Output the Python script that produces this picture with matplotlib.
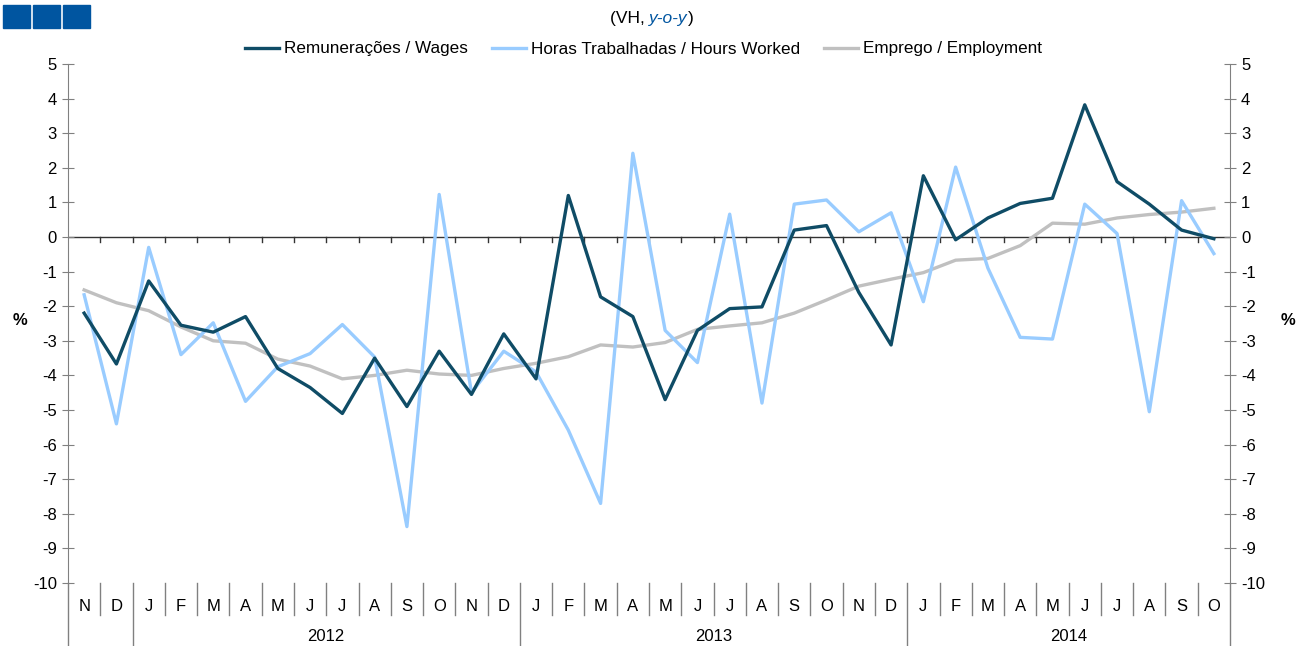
import numpy as np
import matplotlib
matplotlib.use('Agg')
import matplotlib.pyplot as plt
import matplotlib.transforms as mtransforms
from matplotlib.patches import Rectangle
from matplotlib.offsetbox import TextArea, HPacker, AnchoredOffsetbox

plt.rcParams['font.family'] = ['Liberation Sans', 'DejaVu Sans']
plt.rcParams['axes.unicode_minus'] = False

months = ['N', 'D',
          'J', 'F', 'M', 'A', 'M', 'J', 'J', 'A', 'S', 'O', 'N', 'D',
          'J', 'F', 'M', 'A', 'M', 'J', 'J', 'A', 'S', 'O', 'N', 'D',
          'J', 'F', 'M', 'A', 'M', 'J', 'J', 'A', 'S', 'O']
years = ['2012', '2013', '2014']
year_start = [2, 14, 26]

wages = [-2.2, -3.67, -1.27, -2.55, -2.75, -2.3, -3.8, -4.35, -5.1, -3.5, -4.9, -3.3,
         -4.55, -2.8, -4.1, 1.2, -1.73, -2.3, -4.7, -2.7, -2.07, -2.02, 0.2, 0.33,
         -1.6, -3.12, 1.77, -0.08, 0.55, 0.97, 1.12, 3.82, 1.6, 0.95, 0.2, -0.05]
hours = [-1.67, -5.4, -0.3, -3.4, -2.48, -4.75, -3.75, -3.37, -2.53, -3.47, -8.37, 1.23,
         -4.5, -3.3, -3.9, -5.58, -7.7, 2.42, -2.7, -3.63, 0.66, -4.8, 0.95, 1.07,
         0.15, 0.7, -1.87, 2.02, -0.9, -2.9, -2.95, 0.95, 0.1, -5.05, 1.05, -0.48]
employment = [-1.53, -1.9, -2.13, -2.6, -3.0, -3.07, -3.53, -3.73, -4.1, -4.0, -3.85, -3.96,
              -4.0, -3.8, -3.65, -3.46, -3.12, -3.18, -3.05, -2.67, -2.57, -2.48, -2.2, -1.82,
              -1.42, -1.22, -1.03, -0.67, -0.62, -0.25, 0.4, 0.37, 0.55, 0.65, 0.72, 0.83]

c_wages = '#0f4c66'
c_hours = '#99ccff'
c_emp = '#c0c0c0'
c_axis = '#808080'

fig = plt.figure(figsize=(13.03, 6.46), dpi=100)
ax = fig.add_axes([68/1303, 63/646, 1162/1303, 519/646])

x = np.arange(len(months))
ax.plot(x, wages, color=c_wages, lw=2.4, label='Remunerações / Wages', zorder=4)
ax.plot(x, hours, color=c_hours, lw=2.4, label='Horas Trabalhadas / Hours Worked', zorder=3)
ax.plot(x, employment, color=c_emp, lw=2.4, label='Emprego / Employment', zorder=2)

ax.set_xlim(-0.5, len(months) - 0.5)
ax.set_ylim(-10, 5)
ax.set_yticks(range(-10, 6))

ax2 = ax.twinx()
ax2.set_ylim(-10, 5)
ax2.set_yticks(range(-10, 6))

for a in (ax, ax2):
    for s in ('top', 'bottom'):
        a.spines[s].set_visible(False)
    a.spines['left'].set_color(c_axis)
    a.spines['right'].set_color(c_axis)
    a.tick_params(axis='y', direction='inout', length=8, color=c_axis,
                  labelsize=12, pad=4)
ax.spines['right'].set_visible(False)
ax2.spines['left'].set_visible(False)
ax.set_xticks([])

ax.set_ylabel('%', rotation=0, fontsize=12, fontweight='bold', va='center')
ax2.set_ylabel('%', rotation=0, fontsize=12, fontweight='bold', va='center')
ax.yaxis.set_label_coords(-0.041, 0.505)
ax2.yaxis.set_label_coords(1.05, 0.505)

# zero line with small ticks at month boundaries
ax.axhline(0, color='#333333', lw=1, zorder=1)
for b in np.arange(0.5, len(months) - 0.5):
    ax.plot([b, b], [0, -0.15], color='#333333', lw=1, zorder=1)

# month / year separators below the axes
trans = mtransforms.blended_transform_factory(ax.transData, ax.transAxes)
for b in np.arange(0.5, len(months) - 0.5):
    depth = -0.121 if (b + 0.5) in year_start else -0.062
    ax.plot([b, b], [0, depth], color=c_axis, lw=1, transform=trans, clip_on=False)
for b in (-0.5, len(months) - 0.5):
    ax.plot([b, b], [0, -0.121], color=c_axis, lw=1, transform=trans, clip_on=False)

for i, m in enumerate(months):
    ax.text(i, -0.046, m, transform=trans, ha='center', va='center', fontsize=12)

ends = year_start[1:] + [len(months)]
for y, s, e in zip(years, year_start, ends):
    ax.text((s + e - 1) / 2, -0.103, y, transform=trans, ha='center', va='center', fontsize=12)

fig.legend(loc='center', bbox_to_anchor=(0.5 - 8/1303, 1 - 49/646), ncol=3, frameon=False,
           fontsize=12.3, handlelength=2.0, columnspacing=1.4, handletextpad=0.3)

# title with italic blue part
tp = dict(fontsize=12.5)
parts = [TextArea('(VH, ', textprops=dict(color='black', **tp)),
         TextArea('y-o-y', textprops=dict(color='#0055a0', style='italic', **tp)),
         TextArea(')', textprops=dict(color='black', **tp))]
box = HPacker(children=parts, align='baseline', pad=0, sep=0)
anch = AnchoredOffsetbox(loc='center', child=box, pad=0, frameon=False,
                         bbox_to_anchor=(0.5, 1 - 19/646), bbox_transform=fig.transFigure,
                         borderpad=0)
fig.add_artist(anch)

# blue squares top-left
for x0 in (3, 33, 63):
    fig.patches.append(Rectangle((x0/1303, 1 - 28/646), 27/1303, 23/646,
                                 transform=fig.transFigure, color='#0055a0', zorder=5))

fig.savefig('out.png', dpi=100)
